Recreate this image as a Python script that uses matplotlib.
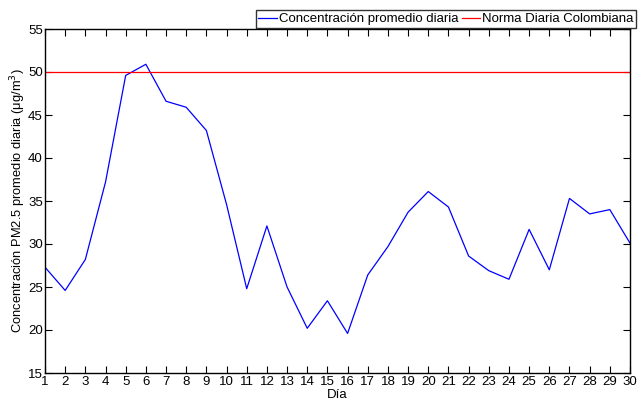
import matplotlib
matplotlib.use("Agg")
from matplotlib import pyplot as plt

dias = list(range(1, 31))
concentracion = [27.3, 24.6, 28.2, 37.2, 49.6, 50.9, 46.6, 45.9, 43.2, 34.6,
                 24.8, 32.1, 25.0, 20.2, 23.4, 19.6, 26.4, 29.7, 33.7, 36.1,
                 34.3, 28.6, 26.9, 25.9, 31.7, 27.0, 35.3, 33.5, 34.0, 30.1]
norma = 50

plt.rcParams['font.family'] = ['Liberation Sans', 'DejaVu Sans']

fig = plt.figure(figsize=(6.41, 4.01), dpi=100)
ax = fig.add_axes([45 / 641, 1 - 373 / 401, 585 / 641, 344 / 401])

ax.plot(dias, concentracion, color='#0000ff', linewidth=0.9, label='Concentración promedio diaria')
ax.axhline(norma, color='#ff0000', linewidth=0.9, label='Norma Diaria Colombiana')

ax.set_xlim(1, 30)
ax.set_ylim(15, 55)
ax.set_xticks(dias)
ax.set_yticks(range(15, 56, 5))
ax.tick_params(direction='in', top=True, right=True, labelsize=9.5, length=5, width=0.8)
ax.tick_params(axis='x', pad=2.4)
ax.tick_params(axis='y', pad=1.5)
for s in ax.spines.values():
    s.set_linewidth(1.0)

ax.set_xlabel('Día', fontsize=9.5, labelpad=0.5)
ax.set_ylabel('Concentración PM2.5 promedio diaria (μg/m$^3$)', fontsize=9.3, labelpad=0)

leg = ax.legend(loc='lower right', bbox_to_anchor=(636 / 641, 1 - 28 / 401), bbox_transform=fig.transFigure,
                ncol=2, fontsize=9.5, frameon=True, fancybox=False, borderpad=0.2,
                handlelength=1.4, handletextpad=0.15, columnspacing=0.25, borderaxespad=0)
leg.get_frame().set_edgecolor('black')
leg.get_frame().set_linewidth(1.0)

fig.savefig('out.png', dpi=100)
